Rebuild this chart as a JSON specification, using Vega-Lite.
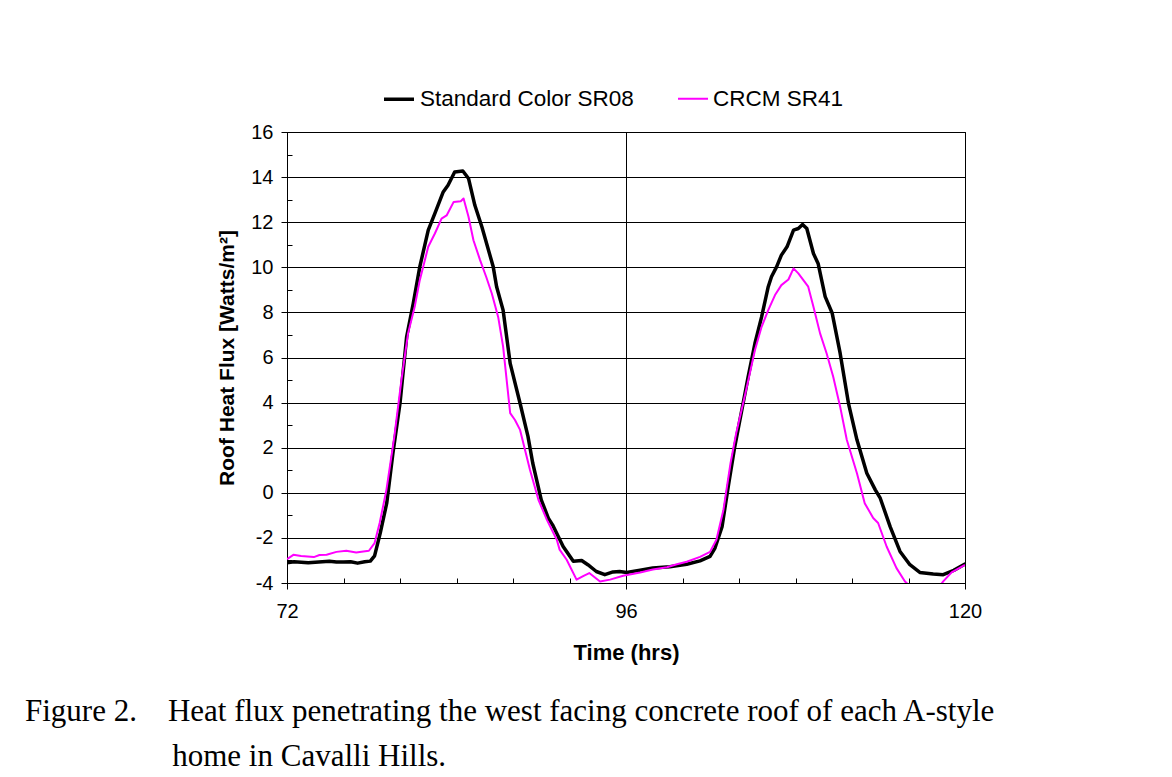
{
  "$schema": "https://vega.github.io/schema/vega-lite/v6.json",
  "autosize": {"type": "none"},
  "width": 678,
  "height": 451,
  "padding": {"left": 287, "top": 132, "right": 207, "bottom": 194},
  "background": "white",
  "config": {
    "font": "Liberation Sans",
    "view": {"stroke": "#000000", "strokeWidth": 1},
    "axis": {
      "domainColor": "#000000",
      "tickColor": "#000000",
      "gridColor": "#000000",
      "gridWidth": 1,
      "gridOpacity": 1,
      "labelColor": "#000000",
      "labelFont": "Liberation Sans",
      "labelFontSize": 20,
      "titleColor": "#000000",
      "titleFont": "Liberation Sans",
      "titleFontWeight": "bold",
      "titleFontSize": 22
    }
  },
  "title": {
    "text": ["Figure 2.\u00a0\u00a0\u00a0\u00a0Heat flux penetrating the west facing concrete roof of each A-style", "\u200b\u00a0\u00a0\u00a0\u00a0\u00a0\u00a0\u00a0\u00a0\u00a0\u00a0\u00a0\u00a0\u00a0\u00a0\u00a0\u00a0\u00a0\u00a0\u00a0home in Cavalli Hills."],
    "orient": "bottom",
    "anchor": "start",
    "frame": "group",
    "dx": -262,
    "offset": 34,
    "font": "Liberation Serif",
    "fontSize": 31,
    "fontWeight": "normal",
    "color": "#000000",
    "lineHeight": 45
  },
  "data": {
    "values": [
      {"s": "Standard Color SR08", "h": 72.0, "v": -3.10},
      {"s": "Standard Color SR08", "h": 72.5, "v": -3.06},
      {"s": "Standard Color SR08", "h": 73.0, "v": -3.08},
      {"s": "Standard Color SR08", "h": 73.5, "v": -3.10},
      {"s": "Standard Color SR08", "h": 74.0, "v": -3.08},
      {"s": "Standard Color SR08", "h": 74.5, "v": -3.06},
      {"s": "Standard Color SR08", "h": 75.0, "v": -3.04},
      {"s": "Standard Color SR08", "h": 75.5, "v": -3.07},
      {"s": "Standard Color SR08", "h": 76.0, "v": -3.07},
      {"s": "Standard Color SR08", "h": 76.5, "v": -3.06},
      {"s": "Standard Color SR08", "h": 77.0, "v": -3.12},
      {"s": "Standard Color SR08", "h": 77.5, "v": -3.06},
      {"s": "Standard Color SR08", "h": 77.9, "v": -3.03},
      {"s": "Standard Color SR08", "h": 78.2, "v": -2.80},
      {"s": "Standard Color SR08", "h": 78.6, "v": -1.79},
      {"s": "Standard Color SR08", "h": 79.06, "v": -0.46},
      {"s": "Standard Color SR08", "h": 79.5, "v": 1.76},
      {"s": "Standard Color SR08", "h": 80.0, "v": 3.97},
      {"s": "Standard Color SR08", "h": 80.47, "v": 6.92},
      {"s": "Standard Color SR08", "h": 80.94, "v": 8.40},
      {"s": "Standard Color SR08", "h": 81.4, "v": 10.02},
      {"s": "Standard Color SR08", "h": 82.0, "v": 11.65},
      {"s": "Standard Color SR08", "h": 82.47, "v": 12.39},
      {"s": "Standard Color SR08", "h": 83.06, "v": 13.34},
      {"s": "Standard Color SR08", "h": 83.4, "v": 13.64},
      {"s": "Standard Color SR08", "h": 83.87, "v": 14.23},
      {"s": "Standard Color SR08", "h": 84.45, "v": 14.27},
      {"s": "Standard Color SR08", "h": 84.85, "v": 13.94},
      {"s": "Standard Color SR08", "h": 85.3, "v": 12.75},
      {"s": "Standard Color SR08", "h": 85.8, "v": 11.79},
      {"s": "Standard Color SR08", "h": 86.6, "v": 10.02},
      {"s": "Standard Color SR08", "h": 86.84, "v": 9.14},
      {"s": "Standard Color SR08", "h": 87.3, "v": 8.1},
      {"s": "Standard Color SR08", "h": 87.8, "v": 5.74},
      {"s": "Standard Color SR08", "h": 88.5, "v": 3.97},
      {"s": "Standard Color SR08", "h": 89.06, "v": 2.5},
      {"s": "Standard Color SR08", "h": 89.4, "v": 1.31},
      {"s": "Standard Color SR08", "h": 90.0, "v": -0.31},
      {"s": "Standard Color SR08", "h": 90.5, "v": -1.12},
      {"s": "Standard Color SR08", "h": 90.8, "v": -1.42},
      {"s": "Standard Color SR08", "h": 91.55, "v": -2.38},
      {"s": "Standard Color SR08", "h": 92.27, "v": -3.04},
      {"s": "Standard Color SR08", "h": 92.86, "v": -3.0},
      {"s": "Standard Color SR08", "h": 93.3, "v": -3.19},
      {"s": "Standard Color SR08", "h": 93.9, "v": -3.49},
      {"s": "Standard Color SR08", "h": 94.5, "v": -3.63},
      {"s": "Standard Color SR08", "h": 95.08, "v": -3.51},
      {"s": "Standard Color SR08", "h": 95.55, "v": -3.49},
      {"s": "Standard Color SR08", "h": 96.05, "v": -3.53},
      {"s": "Standard Color SR08", "h": 97.0, "v": -3.43},
      {"s": "Standard Color SR08", "h": 97.9, "v": -3.33},
      {"s": "Standard Color SR08", "h": 99.1, "v": -3.28},
      {"s": "Standard Color SR08", "h": 100.3, "v": -3.17},
      {"s": "Standard Color SR08", "h": 101.24, "v": -3.02},
      {"s": "Standard Color SR08", "h": 101.95, "v": -2.82},
      {"s": "Standard Color SR08", "h": 102.3, "v": -2.45},
      {"s": "Standard Color SR08", "h": 102.8, "v": -1.5},
      {"s": "Standard Color SR08", "h": 103.24, "v": 0.28},
      {"s": "Standard Color SR08", "h": 103.7, "v": 2.05},
      {"s": "Standard Color SR08", "h": 104.2, "v": 3.67},
      {"s": "Standard Color SR08", "h": 104.65, "v": 5.15},
      {"s": "Standard Color SR08", "h": 105.13, "v": 6.63},
      {"s": "Standard Color SR08", "h": 105.6, "v": 7.8},
      {"s": "Standard Color SR08", "h": 106.07, "v": 9.14},
      {"s": "Standard Color SR08", "h": 106.3, "v": 9.58},
      {"s": "Standard Color SR08", "h": 106.66, "v": 10.02},
      {"s": "Standard Color SR08", "h": 107.0, "v": 10.54},
      {"s": "Standard Color SR08", "h": 107.4, "v": 10.91},
      {"s": "Standard Color SR08", "h": 107.86, "v": 11.65},
      {"s": "Standard Color SR08", "h": 108.2, "v": 11.72},
      {"s": "Standard Color SR08", "h": 108.5, "v": 11.9},
      {"s": "Standard Color SR08", "h": 108.8, "v": 11.72},
      {"s": "Standard Color SR08", "h": 109.27, "v": 10.61},
      {"s": "Standard Color SR08", "h": 109.6, "v": 10.17},
      {"s": "Standard Color SR08", "h": 110.1, "v": 8.7},
      {"s": "Standard Color SR08", "h": 110.6, "v": 7.96},
      {"s": "Standard Color SR08", "h": 111.16, "v": 6.19},
      {"s": "Standard Color SR08", "h": 111.75, "v": 3.97},
      {"s": "Standard Color SR08", "h": 112.35, "v": 2.35},
      {"s": "Standard Color SR08", "h": 113.05, "v": 0.87},
      {"s": "Standard Color SR08", "h": 113.65, "v": 0.13},
      {"s": "Standard Color SR08", "h": 114.0, "v": -0.24},
      {"s": "Standard Color SR08", "h": 114.7, "v": -1.5},
      {"s": "Standard Color SR08", "h": 115.4, "v": -2.6},
      {"s": "Standard Color SR08", "h": 116.1, "v": -3.19},
      {"s": "Standard Color SR08", "h": 116.8, "v": -3.53},
      {"s": "Standard Color SR08", "h": 117.75, "v": -3.6},
      {"s": "Standard Color SR08", "h": 118.46, "v": -3.63},
      {"s": "Standard Color SR08", "h": 119.2, "v": -3.44},
      {"s": "Standard Color SR08", "h": 120.0, "v": -3.16},
      {"s": "CRCM SR41", "h": 72.0, "v": -2.94},
      {"s": "CRCM SR41", "h": 72.45, "v": -2.75},
      {"s": "CRCM SR41", "h": 73.0, "v": -2.80},
      {"s": "CRCM SR41", "h": 73.9, "v": -2.85},
      {"s": "CRCM SR41", "h": 74.3, "v": -2.76},
      {"s": "CRCM SR41", "h": 74.8, "v": -2.75},
      {"s": "CRCM SR41", "h": 75.5, "v": -2.62},
      {"s": "CRCM SR41", "h": 76.2, "v": -2.57},
      {"s": "CRCM SR41", "h": 76.9, "v": -2.65},
      {"s": "CRCM SR41", "h": 77.4, "v": -2.60},
      {"s": "CRCM SR41", "h": 77.8, "v": -2.57},
      {"s": "CRCM SR41", "h": 78.2, "v": -2.23},
      {"s": "CRCM SR41", "h": 78.56, "v": -1.34},
      {"s": "CRCM SR41", "h": 79.04, "v": 0.13},
      {"s": "CRCM SR41", "h": 79.6, "v": 2.5},
      {"s": "CRCM SR41", "h": 80.1, "v": 5.0},
      {"s": "CRCM SR41", "h": 80.57, "v": 7.07},
      {"s": "CRCM SR41", "h": 81.04, "v": 8.25},
      {"s": "CRCM SR41", "h": 81.4, "v": 9.43},
      {"s": "CRCM SR41", "h": 82.0, "v": 10.91},
      {"s": "CRCM SR41", "h": 82.47, "v": 11.5},
      {"s": "CRCM SR41", "h": 82.94, "v": 12.16},
      {"s": "CRCM SR41", "h": 83.3, "v": 12.3},
      {"s": "CRCM SR41", "h": 83.8, "v": 12.9},
      {"s": "CRCM SR41", "h": 84.3, "v": 12.93},
      {"s": "CRCM SR41", "h": 84.5, "v": 13.05},
      {"s": "CRCM SR41", "h": 84.85, "v": 12.24},
      {"s": "CRCM SR41", "h": 85.2, "v": 11.2},
      {"s": "CRCM SR41", "h": 85.67, "v": 10.32},
      {"s": "CRCM SR41", "h": 86.1, "v": 9.58},
      {"s": "CRCM SR41", "h": 86.5, "v": 8.84},
      {"s": "CRCM SR41", "h": 86.95, "v": 7.8},
      {"s": "CRCM SR41", "h": 87.3, "v": 6.48},
      {"s": "CRCM SR41", "h": 87.8, "v": 3.53},
      {"s": "CRCM SR41", "h": 88.14, "v": 3.23},
      {"s": "CRCM SR41", "h": 88.5, "v": 2.79},
      {"s": "CRCM SR41", "h": 89.2, "v": 1.02},
      {"s": "CRCM SR41", "h": 89.8, "v": -0.31},
      {"s": "CRCM SR41", "h": 90.4, "v": -1.2},
      {"s": "CRCM SR41", "h": 91.1, "v": -2.08},
      {"s": "CRCM SR41", "h": 91.3, "v": -2.52},
      {"s": "CRCM SR41", "h": 91.8, "v": -2.97},
      {"s": "CRCM SR41", "h": 92.5, "v": -3.85},
      {"s": "CRCM SR41", "h": 93.0, "v": -3.68},
      {"s": "CRCM SR41", "h": 93.4, "v": -3.56},
      {"s": "CRCM SR41", "h": 94.16, "v": -3.93},
      {"s": "CRCM SR41", "h": 94.87, "v": -3.85},
      {"s": "CRCM SR41", "h": 95.8, "v": -3.68},
      {"s": "CRCM SR41", "h": 97.0, "v": -3.53},
      {"s": "CRCM SR41", "h": 97.9, "v": -3.40},
      {"s": "CRCM SR41", "h": 98.9, "v": -3.30},
      {"s": "CRCM SR41", "h": 99.6, "v": -3.17},
      {"s": "CRCM SR41", "h": 100.3, "v": -3.06},
      {"s": "CRCM SR41", "h": 101.24, "v": -2.84},
      {"s": "CRCM SR41", "h": 101.95, "v": -2.62},
      {"s": "CRCM SR41", "h": 102.4, "v": -2.08},
      {"s": "CRCM SR41", "h": 102.9, "v": -0.75},
      {"s": "CRCM SR41", "h": 103.4, "v": 1.31},
      {"s": "CRCM SR41", "h": 103.8, "v": 2.64},
      {"s": "CRCM SR41", "h": 104.4, "v": 4.26},
      {"s": "CRCM SR41", "h": 105.13, "v": 6.33},
      {"s": "CRCM SR41", "h": 105.6, "v": 7.36},
      {"s": "CRCM SR41", "h": 106.07, "v": 8.1},
      {"s": "CRCM SR41", "h": 106.55, "v": 8.77},
      {"s": "CRCM SR41", "h": 107.0, "v": 9.21},
      {"s": "CRCM SR41", "h": 107.5, "v": 9.46},
      {"s": "CRCM SR41", "h": 107.86, "v": 9.95},
      {"s": "CRCM SR41", "h": 108.2, "v": 9.73},
      {"s": "CRCM SR41", "h": 108.9, "v": 9.14},
      {"s": "CRCM SR41", "h": 109.27, "v": 8.25},
      {"s": "CRCM SR41", "h": 109.74, "v": 7.07},
      {"s": "CRCM SR41", "h": 110.2, "v": 6.19},
      {"s": "CRCM SR41", "h": 110.67, "v": 5.15},
      {"s": "CRCM SR41", "h": 111.16, "v": 3.82},
      {"s": "CRCM SR41", "h": 111.63, "v": 2.35},
      {"s": "CRCM SR41", "h": 112.35, "v": 0.87},
      {"s": "CRCM SR41", "h": 112.9, "v": -0.46},
      {"s": "CRCM SR41", "h": 113.5, "v": -1.12},
      {"s": "CRCM SR41", "h": 113.85, "v": -1.34},
      {"s": "CRCM SR41", "h": 114.45, "v": -2.38},
      {"s": "CRCM SR41", "h": 115.15, "v": -3.34},
      {"s": "CRCM SR41", "h": 115.75, "v": -3.93},
      {"s": "CRCM SR41", "h": 116.3, "v": -4.25},
      {"s": "CRCM SR41", "h": 117.2, "v": -4.4},
      {"s": "CRCM SR41", "h": 118.0, "v": -4.3},
      {"s": "CRCM SR41", "h": 118.46, "v": -3.93},
      {"s": "CRCM SR41", "h": 119.05, "v": -3.53},
      {"s": "CRCM SR41", "h": 120.0, "v": -3.2}
    ]
  },
  "layer": [
    {
      "transform": [{"filter": "datum.s === 'Standard Color SR08'"}],
      "mark": {"type": "line", "clip": true, "strokeJoin": "round", "strokeCap": "round"},
      "encoding": {
        "x": {
          "field": "h", "type": "quantitative",
          "scale": {"domain": [72, 120], "nice": false, "zero": false},
          "axis": {
            "orient": "bottom", "values": [72, 96, 120], "grid": true, "labelFlush": false,
            "tickSize": 6, "labelPadding": 12, "labelFontSize": 20,
            "title": "Time (hrs)", "titlePadding": 21
          }
        },
        "y": {
          "field": "v", "type": "quantitative",
          "scale": {"domain": [-4, 16], "nice": false, "zero": false},
          "axis": {
            "orient": "left", "values": [-4, -2, 0, 2, 4, 6, 8, 10, 12, 14, 16], "grid": true,
            "tickSize": 6, "labelPadding": 8, "labelFontSize": 20, "labelExpr": "'' + datum.value",
            "title": "Roof Heat Flux [Watts/m²]", "titlePadding": 13, "titleFontSize": 21
          }
        },
        "color": {
          "field": "s", "type": "nominal",
          "scale": {"domain": ["Standard Color SR08", "CRCM SR41"], "range": ["#000000", "#FF00FF"]},
          "legend": {
            "title": null, "orient": "none", "direction": "horizontal",
            "legendX": 95, "legendY": -50,
            "symbolType": "stroke", "symbolSize": 900,
            "labelFontSize": 22.5, "labelFont": "Liberation Sans", "labelColor": "#000000",
            "labelOffset": 4, "columnPadding": 40, "labelLimit": 400
          }
        },
        "strokeWidth": {
          "field": "s", "type": "ordinal",
          "scale": {"domain": ["Standard Color SR08", "CRCM SR41"], "range": [3.5, 2]},
          "legend": {"title": null}
        }
      }
    },
    {
      "transform": [{"filter": "datum.s === 'CRCM SR41'"}],
      "mark": {"type": "line", "clip": true, "strokeJoin": "round"},
      "encoding": {
        "x": {
          "field": "h", "type": "quantitative",
          "axis": {
            "orient": "bottom", "values": [76, 80, 84, 88, 92, 100, 104, 108, 112, 116],
            "grid": false, "labels": false, "domain": false, "tickSize": 5, "offset": -5, "title": null
          }
        },
        "y": {
          "field": "v", "type": "quantitative",
          "axis": {
            "orient": "left", "values": [-3, -1, 1, 3, 5, 7, 9, 11, 13, 15],
            "grid": false, "labels": false, "domain": false, "tickSize": 5, "offset": -5, "title": null
          }
        },
        "color": {"field": "s", "type": "nominal"},
        "strokeWidth": {"field": "s", "type": "ordinal"}
      }
    }
  ],
  "resolve": {"axis": {"x": "independent", "y": "independent"}}
}
